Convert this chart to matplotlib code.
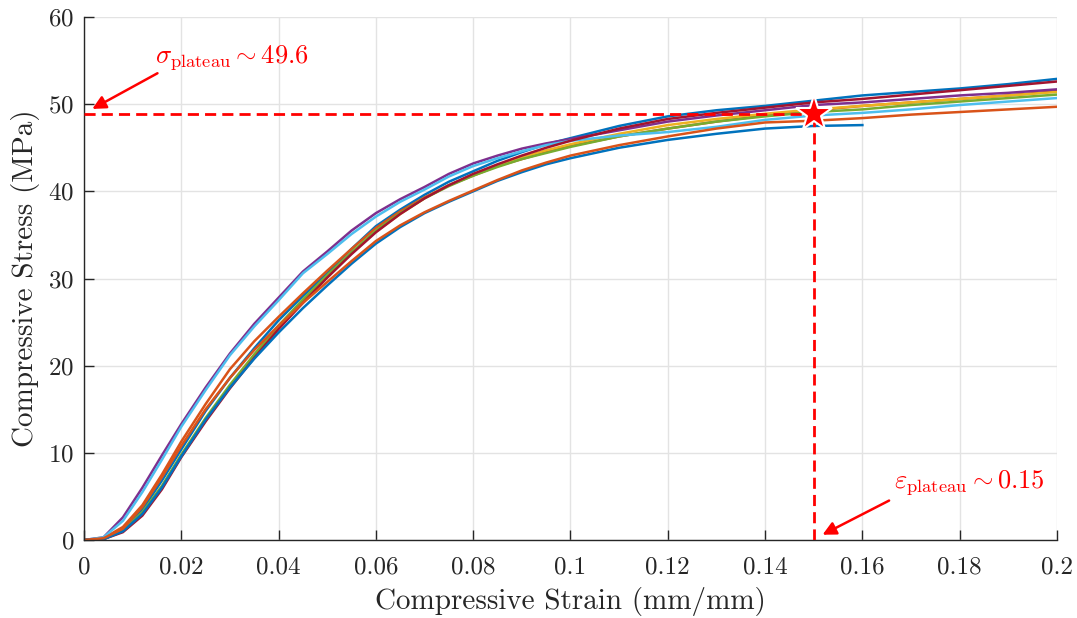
import matplotlib
matplotlib.use('Agg')
import matplotlib.pyplot as plt
import numpy as np

plt.rcParams['font.family'] = 'cmr10'
plt.rcParams['mathtext.fontset'] = 'cm'
plt.rcParams['axes.formatter.use_mathtext'] = True

# strain values shared by all specimens
strain = [0, 0.004, 0.008, 0.012, 0.016, 0.02, 0.025, 0.03, 0.035, 0.04, 0.045, 0.05,
          0.055, 0.06, 0.065, 0.07, 0.075, 0.08, 0.085, 0.09, 0.095, 0.1,
          0.11, 0.12, 0.13, 0.14, 0.15, 0.16, 0.17, 0.18, 0.19, 0.2]

# stress (MPa) per specimen
s1 = [0, 0.2, 1.2, 3.5, 6.8, 10.4, 14.8, 18.6, 22.0, 25.2, 28.0, 30.6,
      33.4, 36.0, 37.9, 39.6, 41.1, 42.3, 43.5, 44.5, 45.4, 46.1,
      47.5, 48.6, 49.3, 49.8, 50.4, 51.0, 51.4, 51.8, 52.3, 52.9]
s2 = [0, 0.2, 1.5, 4.0, 7.5, 11.3, 15.6, 19.6, 22.8, 25.6, 28.3, 30.9,
      33.4, 35.8, 37.7, 39.3, 40.7, 41.8, 42.9, 43.7, 44.5, 45.2,
      46.3, 47.2, 48.0, 48.7, 49.3, 49.8, 50.2, 50.6, 51.0, 51.5]
s3 = [0, 0.1, 1.0, 3.0, 6.0, 9.6, 13.8, 17.6, 21.1, 24.4, 27.4, 30.2,
      32.9, 35.4, 37.4, 39.2, 40.7, 41.9, 43.0, 43.9, 44.7, 45.4,
      46.6, 47.6, 48.3, 48.9, 49.4, 49.8, 50.2, 50.6, 51.0, 51.4]
s4 = [0, 0.3, 2.6, 6.0, 9.7, 13.3, 17.5, 21.4, 24.8, 27.8, 30.8, 33.1,
      35.5, 37.5, 39.1, 40.5, 42.0, 43.2, 44.1, 44.9, 45.5, 46.0,
      47.0, 48.0, 48.7, 49.3, 49.9, 50.2, 50.6, 51.0, 51.3, 51.7]
s5 = [0, 0.1, 1.1, 3.2, 6.2, 9.8, 14.0, 17.8, 21.3, 24.6, 27.6, 30.4,
      33.0, 35.5, 37.5, 39.2, 40.6, 41.8, 42.8, 43.7, 44.4, 45.1,
      46.3, 47.2, 48.0, 48.6, 49.1, 49.4, 49.9, 50.3, 50.7, 51.1]
s6 = [0, 0.3, 2.2, 5.5, 9.2, 13.0, 17.2, 21.2, 24.5, 27.5, 30.6, 32.8,
      35.1, 37.1, 38.8, 40.2, 41.7, 42.9, 43.8, 44.6, 45.3, 45.8,
      46.4, 46.8, 47.4, 48.2, 48.7, 49.0, 49.4, 49.9, 50.3, 50.7]
s7 = [0, 0.1, 0.9, 2.8, 5.8, 9.5, 13.6, 17.4, 20.9, 24.2, 27.2, 30.1,
      32.8, 35.3, 37.4, 39.2, 40.7, 42.0, 43.1, 44.1, 45.0, 45.8,
      47.2, 48.3, 49.0, 49.6, 50.2, 50.6, 51.1, 51.6, 52.1, 52.6]
s8 = [0, 0.1, 1.0, 3.0, 6.0, 9.6, 13.8, 17.5, 20.8, 23.8, 26.6, 29.2,
      31.7, 34.0, 35.9, 37.5, 38.8, 40.0, 41.2, 42.2, 43.1, 43.8,
      45.0, 45.9, 46.6, 47.2, 47.5, 47.6, np.nan, np.nan, np.nan, np.nan]
s9 = [0, 0.2, 1.3, 3.8, 7.2, 10.8, 15.0, 18.6, 21.8, 24.6, 27.2, 29.6,
      32.0, 34.3, 36.1, 37.6, 38.9, 40.1, 41.3, 42.4, 43.3, 44.1,
      45.3, 46.3, 47.2, 47.9, 48.1, 48.4, 48.8, 49.1, 49.4, 49.7]
specimens = [s1, s2, s3, s4, s5, s6, s7, s8, s9]

colors = ['#0072BD', '#D95319', '#EDB120', '#7E2F8E', '#77AC30', '#4DBEEE', '#A2142F']

x_ticks = [0, 0.02, 0.04, 0.06, 0.08, 0.1, 0.12, 0.14, 0.16, 0.18, 0.2]
x_labels = ['0', '0.02', '0.04', '0.06', '0.08', '0.1', '0.12', '0.14', '0.16', '0.18', '0.2']
y_ticks = [0, 10, 20, 30, 40, 50, 60]

eps_plateau = 0.15
sig_plateau = 48.87

fig = plt.figure(figsize=(10.77, 6.18), dpi=100)
ax = fig.add_axes([0.078, 0.1262, 0.9034, 0.8463])

for i, s in enumerate(specimens):
    ax.plot(strain, s, color=colors[i % len(colors)], lw=1.8)

# plateau markers
ax.plot([0, eps_plateau], [sig_plateau, sig_plateau], '--', color='red', lw=2, dashes=(4, 2.2), zorder=5)
ax.plot([eps_plateau, eps_plateau], [0, sig_plateau], '--', color='red', lw=2, dashes=(4, 2.2), zorder=5)
ax.plot(eps_plateau, sig_plateau, marker='*', ms=27, color='red', mec='white', mew=1.5, zorder=6)

# annotations
ax.annotate('', xy=(0.0012, 49.3), xytext=(0.0156, 53.7),
            arrowprops=dict(arrowstyle='-|>', color='red', lw=1.8, mutation_scale=20))
ax.text(0.0146, 55.4, r'$\sigma_{\rm plateau} \sim 49.6$', color='red', fontsize=19, va='center', ha='left')
ax.annotate('', xy=(0.1513, 0.46), xytext=(0.166, 4.67),
            arrowprops=dict(arrowstyle='-|>', color='red', lw=1.8, mutation_scale=20))
ax.text(0.1665, 6.6, r'$\varepsilon_{\rm plateau} \sim 0.15$', color='red', fontsize=19, va='center', ha='left')

ax.set_xlim(0, 0.2)
ax.set_ylim(0, 60)
ax.set_xticks(x_ticks)
ax.set_xticklabels(x_labels)
ax.set_yticks(y_ticks)
ax.tick_params(direction='in', length=7, width=1, colors='#262626', labelsize=18)
ax.tick_params(axis='x', pad=12)
ax.tick_params(axis='y', pad=7)
ax.grid(True, color='#e3e3e3', lw=1)
ax.set_axisbelow(True)
for side in ['top', 'right']:
    ax.spines[side].set_visible(False)
for side in ['left', 'bottom']:
    ax.spines[side].set_color('#262626')
    ax.spines[side].set_linewidth(1)

ax.set_xlabel('Compressive Strain (mm/mm)', fontsize=21, color='#262626', labelpad=6)
ax.set_ylabel('Compressive Stress (MPa)', fontsize=21, color='#262626', labelpad=6)

plt.savefig('out.png', dpi=100)
